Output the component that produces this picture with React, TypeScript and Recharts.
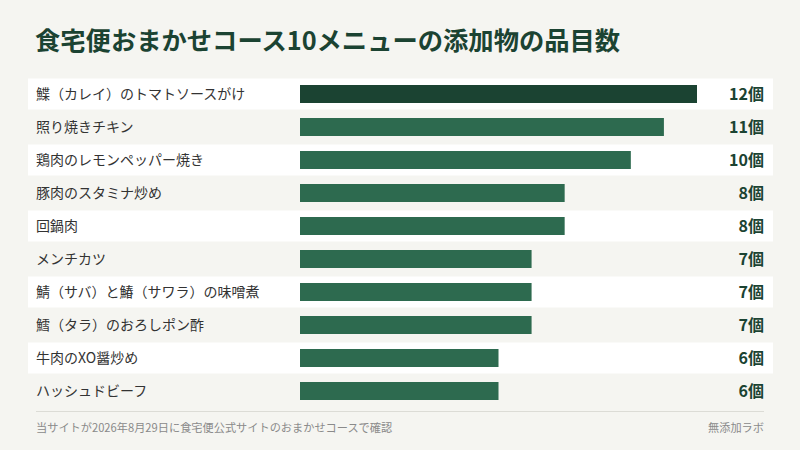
import { BarChart, Bar, XAxis, YAxis, LabelList, Cell } from 'recharts'

const menus = [
  '鰈（カレイ）のトマトソースがけ',
  '照り焼きチキン',
  '鶏肉のレモンペッパー焼き',
  '豚肉のスタミナ炒め',
  '回鍋肉',
  'メンチカツ',
  '鯖（サバ）と鰆（サワラ）の味噌煮',
  '鱈（タラ）のおろしポン酢',
  '牛肉のXO醤炒め',
  'ハッシュドビーフ',
]

const additiveCounts = [12, 11, 10, 8, 8, 7, 7, 7, 6, 6]

const data = menus.map((name, i) => ({ name, value: additiveCounts[i] }))

const FONT = '"Noto Sans CJK JP", "Noto Sans", sans-serif'
const PAGE_BG = '#f5f5f1'
const DARK = '#1b4332'
const BAR = '#2d6a4f'

const RowBackground = (props: any) => {
  const { y, height, index } = props
  const cy = y + height / 2
  if (index % 2 !== 0) return <g />
  return <rect x={28} y={cy - 15.5} width={745} height={31} fill="#ffffff" />
}

const CategoryTick = (props: any) => {
  const { y, payload } = props
  return (
    <text x={36} y={y} dy={5} textAnchor="start" fontSize={14} fill="#333333" fontFamily={FONT}>
      {payload.value}
    </text>
  )
}

const ValueLabel = (props: any) => {
  const { y, height, value } = props
  return (
    <text
      x={764}
      y={y + height / 2}
      dy={6}
      textAnchor="end"
      fontSize={16}
      fontWeight={700}
      fill={DARK}
      fontFamily={FONT}
    >
      {value}個
    </text>
  )
}

export default function App() {
  return (
    <div
      style={{
        position: 'absolute',
        left: 0,
        top: 0,
        width: 800,
        height: 450,
        background: PAGE_BG,
        fontFamily: FONT,
      }}
    >
      <div
        style={{
          position: 'absolute',
          left: 35,
          top: 25,
          fontSize: 25.3,
          lineHeight: '28px',
          fontWeight: 700,
          color: DARK,
          whiteSpace: 'nowrap',
        }}
      >
        食宅便おまかせコース10メニューの添加物の品目数
      </div>
      <BarChart
        width={800}
        height={450}
        data={data}
        layout="vertical"
        margin={{ top: 77, right: 103, bottom: 43, left: 0 }}
        style={{ position: 'absolute', left: 0, top: 0 }}
      >
        <XAxis type="number" domain={[0, 12]} hide />
        <YAxis
          type="category"
          dataKey="name"
          width={300}
          axisLine={false}
          tickLine={false}
          tick={<CategoryTick />}
          interval={0}
        />
        <Bar
          dataKey="value"
          barSize={18}
          isAnimationActive={false}
          background={<RowBackground />}
        >
          {data.map((d, i) => (
            <Cell key={d.name} fill={i === 0 ? DARK : BAR} />
          ))}
          <LabelList dataKey="value" content={<ValueLabel />} />
        </Bar>
      </BarChart>
      <div
        style={{
          position: 'absolute',
          left: 36,
          top: 411,
          width: 728,
          height: 1,
          background: '#dcdcd6',
        }}
      />
      <div
        style={{
          position: 'absolute',
          left: 36,
          top: 420,
          fontSize: 11.2,
          lineHeight: '14px',
          color: '#8a8a8a',
          whiteSpace: 'nowrap',
        }}
      >
        当サイトが2026年8月29日に食宅便公式サイトのおまかせコースで確認
      </div>
      <div
        style={{
          position: 'absolute',
          right: 36,
          top: 420,
          fontSize: 11.2,
          lineHeight: '14px',
          color: '#8a8a8a',
          whiteSpace: 'nowrap',
        }}
      >
        無添加ラボ
      </div>
    </div>
  )
}
